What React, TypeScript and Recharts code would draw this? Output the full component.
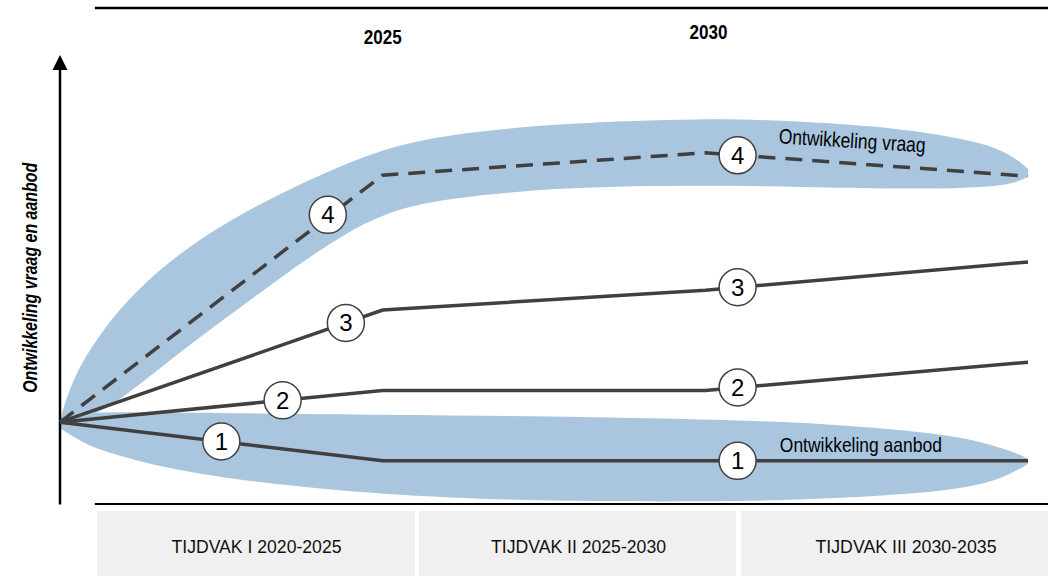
import React from 'react';
import {
  ComposedChart,
  Line,
  Area,
  Scatter,
  XAxis,
  YAxis,
  ReferenceLine,
  ReferenceDot,
} from 'recharts';

// ---- data ----
const YEARS = [2020, 2025, 2030, 2035];
const SCENARIO_1 = [16.5, 8.7, 8.7, 8.7];
const SCENARIO_2 = [16.5, 22.9, 22.9, 28.6];
const SCENARIO_3 = [16.5, 39.1, 43.1, 48.8];
const SCENARIO_4 = [16.5, 66.3, 70.8, 66.1];

// band "Ontwikkeling vraag"
const VRAAG_X = [2020, 2020.15, 2020.4, 2020.8, 2021.3, 2021.9, 2022.6, 2023.4, 2024.2, 2025, 2026, 2027.8, 2030, 2031.5, 2033, 2034, 2034.5, 2034.8, 2035];
const VRAAG_HIGH = [16.9, 23.5, 30.0, 37.5, 44.5, 51.0, 57.0, 62.5, 67.3, 71.6, 74.6, 76.8, 77.8, 77.2, 75.8, 73.6, 71.9, 69.8, 67.6];
const VRAAG_LOW = [15.9, 16.4, 17.3, 19.8, 24.8, 31.0, 37.8, 45.5, 52.8, 58.8, 61.7, 63.9, 64.3, 63.9, 63.5, 63.7, 64.1, 64.7, 66.0];

// band "Ontwikkeling aanbod"
const AANBOD_X = [2020, 2020.3, 2020.6, 2021.7, 2022.7, 2024, 2026, 2028.3, 2030.5, 2032, 2033.5, 2034.2, 2034.6, 2034.85, 2035];
const AANBOD_HIGH = [17.5, 18.3, 18.5, 18.5, 18.3, 18.1, 17.9, 17.5, 16.9, 16.1, 14.4, 12.8, 11.2, 10.1, 9.1];
const AANBOD_LOW = [15.3, 12.8, 10.8, 7.0, 5.0, 3.0, 1.1, 0.5, 0.5, 1.1, 2.3, 3.7, 5.3, 6.9, 8.1];

// numbered markers
const MARKER_X = [2022.5, 2030.5, 2023.45, 2030.5, 2024.43, 2030.5, 2024.15, 2030.5];
const MARKER_Y = [12.6, 8.7, 20.9, 23.5, 36.5, 43.7, 58.3, 70.3];
const MARKER_LABEL = ['1', '1', '2', '2', '3', '3', '4', '4'];

const YEAR_LABELS = ['2025', '2030'];
const YEAR_LABEL_X = [2025, 2030.05];
const YEAR_LABEL_Y = [92.7, 93.7];

const PERIODS = ['TIJDVAK I 2020-2025', 'TIJDVAK II 2025-2030', 'TIJDVAK III 2030-2035'];

const AXIS_TITLE = 'Ontwikkeling vraag en aanbod';
const BAND_LABELS = ['Ontwikkeling vraag', 'Ontwikkeling aanbod'];

// ---- derived tables ----
const toLine = (vals: number[]) => YEARS.map((x, i) => ({ x, v: vals[i] }));
const toBand = (xs: number[], lo: number[], hi: number[]) =>
  xs.map((x, i) => ({ x, range: [lo[i], hi[i]] }));

const vraagBand = toBand(VRAAG_X, VRAAG_LOW, VRAAG_HIGH);
const aanbodBand = toBand(AANBOD_X, AANBOD_LOW, AANBOD_HIGH);
const markers = MARKER_X.map((x, i) => ({ x, y: MARKER_Y[i], label: MARKER_LABEL[i] }));

// ---- styles ----
const LINE_COLOR = '#404040';
const BAND_COLOR = '#a9c6de';
const NARROW = "'Liberation Sans Narrow', 'Liberation Sans', Arial, sans-serif";
const SANS = "'Liberation Sans', Arial, sans-serif";

const textLabel =
  (text: string, opts: any) =>
  (props: any) => {
    const vb = props.viewBox || {};
    const x = (vb.x ?? 0) + (vb.width ?? 0) / 2;
    const y = (vb.y ?? 0) + (vb.height ?? 0) / 2;
    return (
      <text
        x={x}
        y={y}
        textAnchor="middle"
        fontFamily={opts.family || NARROW}
        fontSize={opts.size}
        fontWeight={opts.weight || 'normal'}
        fontStyle={opts.style || 'normal'}
        fill="#000"
        textLength={opts.length}
        lengthAdjust="spacingAndGlyphs"
        transform={opts.rotate ? `rotate(${opts.rotate} ${x} ${y})` : undefined}
      >
        {text}
      </text>
    );
  };

const MarkerShape = (props: any) => {
  const { cx, cy, payload } = props;
  if (cx == null || cy == null) return null;
  return (
    <g>
      <circle cx={cx} cy={cy} r={18.5} fill="#fff" stroke={LINE_COLOR} strokeWidth={1.5} />
      <text
        x={cx}
        y={cy + 8.5}
        textAnchor="middle"
        fontFamily={SANS}
        fontSize={24}
        fill="#000"
      >
        {payload.label}
      </text>
    </g>
  );
};

const ArrowAxis = (props: any) => {
  const { x1, y1, x2, y2 } = props;
  const head = 15;
  const top = Math.min(y1, y2);
  const bottom = Math.max(y1, y2);
  return (
    <g>
      <line x1={x1} y1={bottom} x2={x2} y2={top + head} stroke="#000" strokeWidth={2.5} />
      <polygon points={`${x1 - 7.5},${top + head} ${x1 + 7.5},${top + head} ${x1},${top}`} fill="#000" />
    </g>
  );
};

const Footer = () => {
  const left = [97, 419, 741];
  const width = [318, 317, 330];
  const center = [256.5, 578.5, 906];
  const len = [170, 175, 181];
  return (
    <svg
      width={1048}
      height={576}
      style={{ position: 'absolute', left: 0, top: 0, pointerEvents: 'none' }}
    >
      {PERIODS.map((p, i) => (
        <g key={p}>
          <rect x={left[i]} y={511} width={width[i]} height={70} fill="#f0f0f0" />
          <text
            x={center[i]}
            y={553}
            textAnchor="middle"
            fontFamily={SANS}
            fontSize={19}
            fill="#111"
            textLength={len[i]}
            lengthAdjust="spacingAndGlyphs"
          >
            {p}
          </text>
        </g>
      ))}
    </svg>
  );
};

export default function App() {
  return (
    <div
      style={{
        position: 'absolute',
        left: 0,
        top: 0,
        width: 1048,
        height: 576,
        overflow: 'hidden',
        background: '#fff',
      }}
    >
      <ComposedChart
        width={1048}
        height={576}
        margin={{ top: 8, right: 20, bottom: 72, left: 60 }}
      >
        <XAxis type="number" dataKey="x" domain={[2020, 2035]} hide />
        <YAxis type="number" domain={[0, 100]} hide />

        <Area
          data={vraagBand}
          dataKey="range"
          type="basis"
          stroke="none"
          fill={BAND_COLOR}
          fillOpacity={1}
          isAnimationActive={false}
          activeDot={false}
        />
        <Area
          data={aanbodBand}
          dataKey="range"
          type="basis"
          stroke="none"
          fill={BAND_COLOR}
          fillOpacity={1}
          isAnimationActive={false}
          activeDot={false}
        />

        <ReferenceLine
          segment={[{ x: 2020.54, y: 100 }, { x: 2035.31, y: 100 }]}
          stroke="#000"
          strokeWidth={2.5}
          ifOverflow="visible"
        />
        <ReferenceLine
          segment={[{ x: 2020.54, y: 0 }, { x: 2035.31, y: 0 }]}
          stroke="#000"
          strokeWidth={2}
          ifOverflow="visible"
        />
        <ReferenceLine
          segment={[{ x: 2020, y: -0.1 }, { x: 2020, y: 90.5 }]}
          ifOverflow="visible"
          shape={ArrowAxis}
        />

        <Line data={toLine(SCENARIO_1)} dataKey="v" type="linear" stroke={LINE_COLOR} strokeWidth={3.5} dot={false} activeDot={false} isAnimationActive={false} />
        <Line data={toLine(SCENARIO_2)} dataKey="v" type="linear" stroke={LINE_COLOR} strokeWidth={3.5} dot={false} activeDot={false} isAnimationActive={false} />
        <Line data={toLine(SCENARIO_3)} dataKey="v" type="linear" stroke={LINE_COLOR} strokeWidth={3.5} dot={false} activeDot={false} isAnimationActive={false} />
        <Line data={toLine(SCENARIO_4)} dataKey="v" type="linear" stroke={LINE_COLOR} strokeWidth={3.5} strokeDasharray="17 10" dot={false} activeDot={false} isAnimationActive={false} />

        <Scatter data={markers} dataKey="y" shape={MarkerShape} isAnimationActive={false} />

        {YEAR_LABELS.map((t, i) => (
          <ReferenceDot
            key={t}
            x={YEAR_LABEL_X[i]}
            y={YEAR_LABEL_Y[i]}
            r={0}
            fill="none"
            stroke="none"
            ifOverflow="visible"
            label={textLabel(t, { size: 20, weight: 'bold', length: 38 })}
          />
        ))}
        <ReferenceDot
          x={2032.27}
          y={71.8}
          r={0}
          fill="none"
          stroke="none"
          ifOverflow="visible"
          label={textLabel(BAND_LABELS[0], { size: 21, length: 147, rotate: 3.5 })}
        />
        <ReferenceDot
          x={2032.41}
          y={10.5}
          r={0}
          fill="none"
          stroke="none"
          ifOverflow="visible"
          label={textLabel(BAND_LABELS[1], { size: 21, length: 162 })}
        />
        <ReferenceDot
          x={2019.64}
          y={45.6}
          r={0}
          fill="none"
          stroke="none"
          ifOverflow="visible"
          label={textLabel(AXIS_TITLE, { size: 20, weight: 'bold', style: 'italic', length: 230, rotate: -90 })}
        />
      </ComposedChart>
      <Footer />
    </div>
  );
}
